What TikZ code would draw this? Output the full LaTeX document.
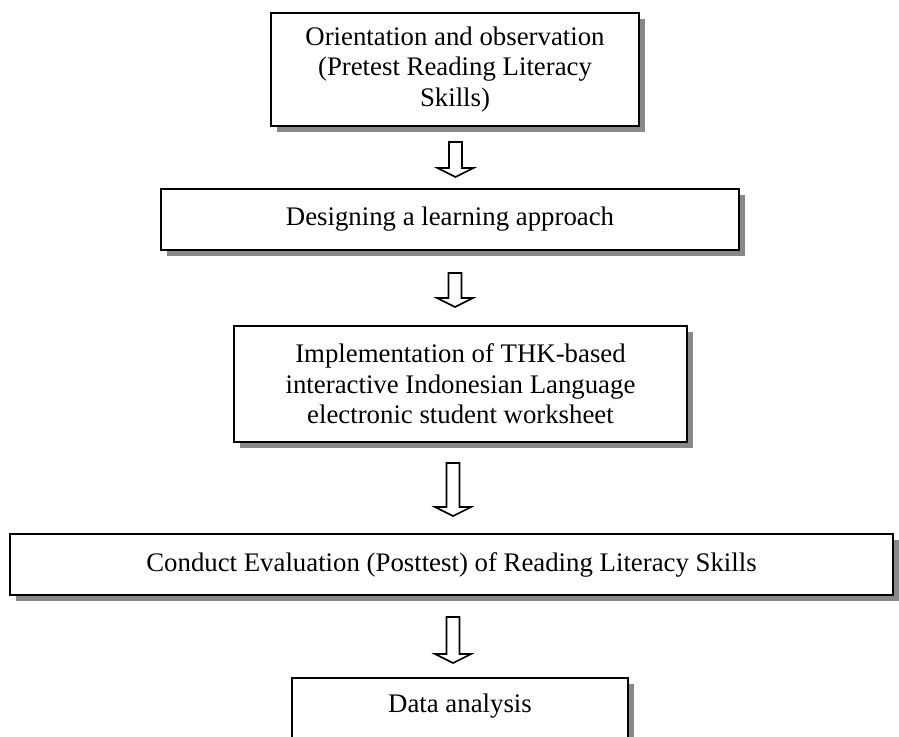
\documentclass[tikz,border=0pt]{standalone}
\usepackage{fontspec}
\setmainfont{Liberation Serif}
\usetikzlibrary{shadows,calc}
\definecolor{shadowgray}{RGB}{136,136,136}

\newcommand{\hollowarrow}[2]{%
  \draw[hollow] ($(#1)+(-6.5,0)$) -- ($(#2)+(-6.5,-9)$) -- ($(#2)+(-18,-9)$) -- (#2)
    -- ($(#2)+(18,-9)$) -- ($(#2)+(6.5,-9)$) -- ($(#1)+(6.5,0)$) -- cycle;}

\begin{document}
\begin{tikzpicture} [
      x = 0.5pt, y = -0.5pt,
      stage/.style = { draw, line width = 0.9pt, fill = white, inner sep = 0, align = center,
        font = \fontsize{13.4}{15.3}\selectfont,
        drop shadow={shadow xshift=2.8pt,shadow yshift=-3pt,fill=shadowgray,opacity=1} },
      hollow/.style = { line width = 0.8pt, fill = white, line join = miter }
      ]
  \useasboundingbox (0,0) rectangle (899,736);
  \clip (0,0) rectangle (899,736);

  \node [stage, minimum width = 184pt, minimum height = 56.5pt] (orient) at (455,69.5)
    {Orientation and observation\\(Pretest Reading Literacy\\Skills)};
  \node [stage, minimum width = 289pt, minimum height = 30.5pt] (design) at (450,219.5)
    {Designing a learning approach};
  \node [stage, minimum width = 226.5pt, minimum height = 58pt] (implement) at (460.5,384)
    {Implementation of THK-based\\interactive Indonesian Language\\electronic student worksheet};
  \node [stage, minimum width = 441.5pt, minimum height = 30.5pt] (posttest) at (451.5,564.5)
    {Conduct Evaluation (Posttest) of Reading Literacy Skills};
  \node [stage, minimum width = 168pt, text height = 17.5pt, text depth = 34pt, anchor = north] (analysis) at (460,677)
    {Data analysis};

  \coordinate (top1) at (455.5,142); \coordinate (tip1) at (455.5,177);
  \coordinate (top2) at (455,273);   \coordinate (tip2) at (455,307);
  \coordinate (top3) at (453,463);   \coordinate (tip3) at (453,516);
  \coordinate (top4) at (453,617);   \coordinate (tip4) at (453,663);

  \hollowarrow{top1}{tip1}
  \hollowarrow{top2}{tip2}
  \hollowarrow{top3}{tip3}
  \hollowarrow{top4}{tip4}
\end{tikzpicture}
\end{document}
